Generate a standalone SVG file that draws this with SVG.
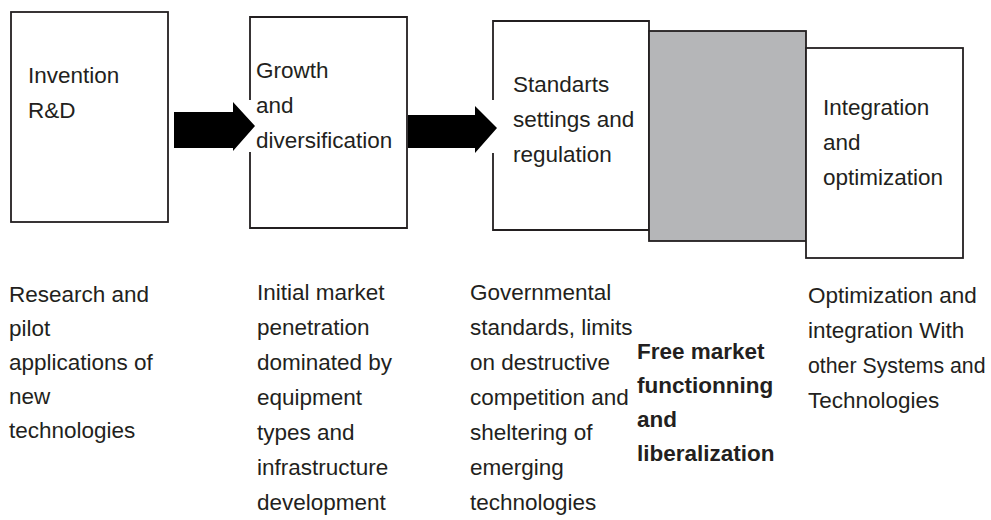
<svg xmlns="http://www.w3.org/2000/svg" width="991" height="520" viewBox="0 0 991 520">
<style>
.box{fill:#fff;stroke:#231f20;stroke-width:1.8}
.gray{fill:#b5b6b8;stroke:#231f20;stroke-width:1.8}
.edge{fill:none;stroke:#231f20;stroke-width:1.8}
.arrow{fill:#000}
text{font-family:"Liberation Sans",Arial,sans-serif;font-size:22.5px;fill:#231f20}
.b{font-weight:bold}
</style>
<rect width="991" height="520" fill="#fff"/>
<g id="node-invention">
<rect class="box" x="11" y="12" width="157" height="210"/>
<text x="28" y="83">Invention</text>
<text x="28" y="118">R&amp;D</text>
</g>
<g id="node-growth">
<rect x="250" y="17" width="157" height="211" fill="#fff"/>
<path class="edge" d="M250,100 V17 H407 V228 H250 V152"/>
<text x="256" y="78">Growth</text>
<text x="256" y="113">and</text>
<text x="256" y="148">diversification</text>
</g>
<g id="node-standarts">
<rect x="493" y="21" width="156" height="209" fill="#fff"/>
<path class="edge" d="M493,100 V21 H649 V230 H493 V153"/>
<text x="513" y="92">Standarts</text>
<text x="513" y="127">settings and</text>
<text x="513" y="162">regulation</text>
</g>
<g id="node-freemarket">
<rect class="gray" x="649" y="31" width="157" height="210"/>
</g>
<g id="node-integration">
<rect class="box" x="806" y="48" width="157" height="210"/>
<text x="823" y="115">Integration</text>
<text x="823" y="150">and</text>
<text x="823" y="185">optimization</text>
</g>
<g id="connectors">
<polygon class="arrow" points="174,112 233,112 233,102 255,126 233,151 233,148 174,148"/>
<polygon class="arrow" points="408,115 475,115 475,106 497,128 475,153 475,148 408,148"/>
</g>
<g id="desc-invention">
<text x="9" y="302">Research and</text>
<text x="9" y="336">pilot</text>
<text x="9" y="370">applications of</text>
<text x="9" y="404">new</text>
<text x="9" y="438">technologies</text>
</g>
<g id="desc-growth">
<text x="257" y="300">Initial market</text>
<text x="257" y="335">penetration</text>
<text x="257" y="370">dominated by</text>
<text x="257" y="405">equipment</text>
<text x="257" y="440">types and</text>
<text x="257" y="475">infrastructure</text>
<text x="257" y="510">development</text>
</g>
<g id="desc-standarts">
<text x="470" y="300">Governmental</text>
<text x="470" y="335">standards, limits</text>
<text x="470" y="370">on destructive</text>
<text x="470" y="405">competition and</text>
<text x="470" y="440">sheltering of</text>
<text x="470" y="475">emerging</text>
<text x="470" y="510">technologies</text>
</g>
<g id="desc-freemarket">
<text class="b" x="637" y="359">Free market</text>
<text class="b" x="637" y="393">functionning</text>
<text class="b" x="637" y="427">and</text>
<text class="b" x="637" y="461">liberalization</text>
</g>
<g id="desc-integration">
<text x="808" y="303">Optimization and</text>
<text x="808" y="338">integration With</text>
<text x="808" y="373" style="font-size:21.3px">other Systems and</text>
<text x="808" y="408">Technologies</text>
</g>
</svg>
